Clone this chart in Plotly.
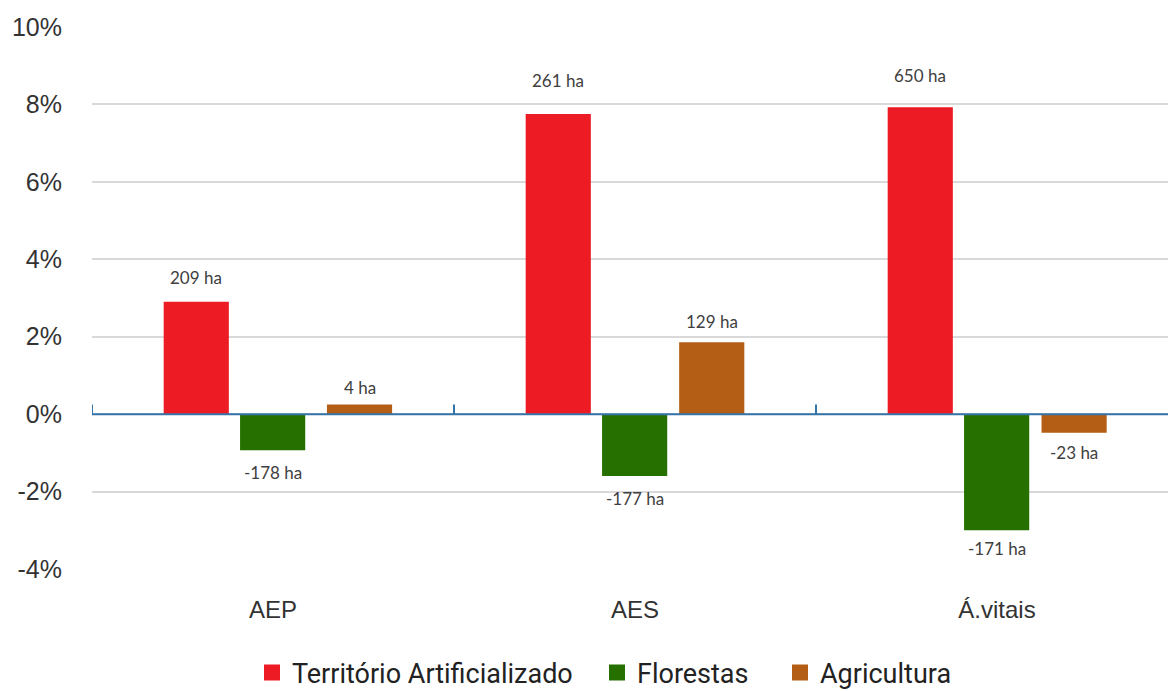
import plotly.graph_objects as go

categories = ["AEP", "AES", "Á.vitais"]
series_names = ["Território Artificializado", "Florestas", "Agricultura"]
territorio = [0.0290, 0.0775, 0.0793]
florestas = [-0.0093, -0.0160, -0.0300]
agricultura = [0.0025, 0.0186, -0.0048]
labels_territorio = ["209 ha", "261 ha", "650 ha"]
labels_florestas = ["-178 ha", "-177 ha", "-171 ha"]
labels_agricultura = ["4 ha", "129 ha", "-23 ha"]
ytick_vals = [-0.04, -0.02, 0, 0.02, 0.04, 0.06, 0.08, 0.10]
ytick_text = ["-4%", "-2%", "0%", "2%", "4%", "6%", "8%", "10%"]

colors = ["#ED1C24", "#267000", "#B35E14"]
bar_w = 0.18
offsets = [[-0.302] * 3, [-0.091] * 3, [0.149, 0.122, 0.123]]
label_shift = [[24, 34, 32], [-22, -22, -18], [17, 21, -20]]
legend_ids = ["legend", "legend2", "legend3"]
legend_x = [252, 597, 780]  # left edges in px

series = [territorio, florestas, agricultura]
labels = [labels_territorio, labels_florestas, labels_agricultura]

fig = go.Figure()
annotations = []
for i, (name, vals) in enumerate(zip(series_names, series)):
    fig.add_trace(go.Bar(
        x=list(range(len(categories))), y=vals, name=name, showlegend=False,
        marker=dict(color=colors[i], line=dict(width=0)),
        width=bar_w, offset=offsets[i], hoverinfo="skip",
    ))
    fig.add_trace(go.Scatter(
        x=[None], y=[None], name=name, mode="markers", legend=legend_ids[i],
        marker=dict(symbol="square", size=20, color=colors[i]), showlegend=True,
    ))
    for j, v in enumerate(vals):
        cx = j + offsets[i][j] + bar_w / 2
        annotations.append(dict(
            x=cx, y=v, xref="x", yref="y", text=labels[i][j], showarrow=False,
            yshift=label_shift[i][j], font=dict(family="Lato, Carlito, sans-serif", size=17, color="#404040"),
        ))

shapes = []
for k in range(len(categories) + 1):
    shapes.append(dict(type="line", xref="x", yref="y", x0=k - 0.5, x1=k - 0.5,
                       y0=0, y1=0.0025, line=dict(color="#3573A8", width=2)))
shapes.append(dict(type="line", xref="paper", yref="y", x0=0, x1=1, y0=0, y1=0,
                   line=dict(color="#3573A8", width=2)))

legend_common = dict(
    orientation="h", xref="container", yref="container", xanchor="left", yanchor="middle",
    y=1 - 673 / 691, font=dict(family="Roboto, sans-serif", size=27, color="#222"),
    itemwidth=30, bgcolor="rgba(0,0,0,0)",
)
legends = {lid: dict(legend_common, x=lx / 1168) for lid, lx in zip(legend_ids, legend_x)}

fig.update_layout(
    width=1168, height=691,
    margin=dict(l=92, r=0, t=27, b=122),
    paper_bgcolor="white", plot_bgcolor="white",
    barmode="overlay",
    showlegend=True,
    **legends,
    xaxis=dict(
        tickmode="array", tickvals=list(range(len(categories))), ticktext=categories,
        range=[-0.5, 2.5 - 10 / 362], showgrid=False, zeroline=False, showline=False,
        ticks="outside", ticklen=19, tickcolor="rgba(0,0,0,0)",
        tickfont=dict(family="Liberation Sans, Arial, sans-serif", size=24, color="#333"),
        fixedrange=True,
    ),
    yaxis=dict(
        range=[-0.04, 0.10], tickvals=ytick_vals, ticktext=ytick_text,
        showgrid=True, gridcolor="#D9D9D9", gridwidth=1.5, zeroline=False, showline=False,
        ticks="outside", ticklen=24, tickcolor="rgba(0,0,0,0)",
        tickfont=dict(family="Liberation Sans, Arial, sans-serif", size=25, color="#333"),
        fixedrange=True,
    ),
    annotations=annotations,
    shapes=shapes,
)

fig.write_html("out.html", config={"displayModeBar": False},
               post_script="document.body.style.margin='0';")
